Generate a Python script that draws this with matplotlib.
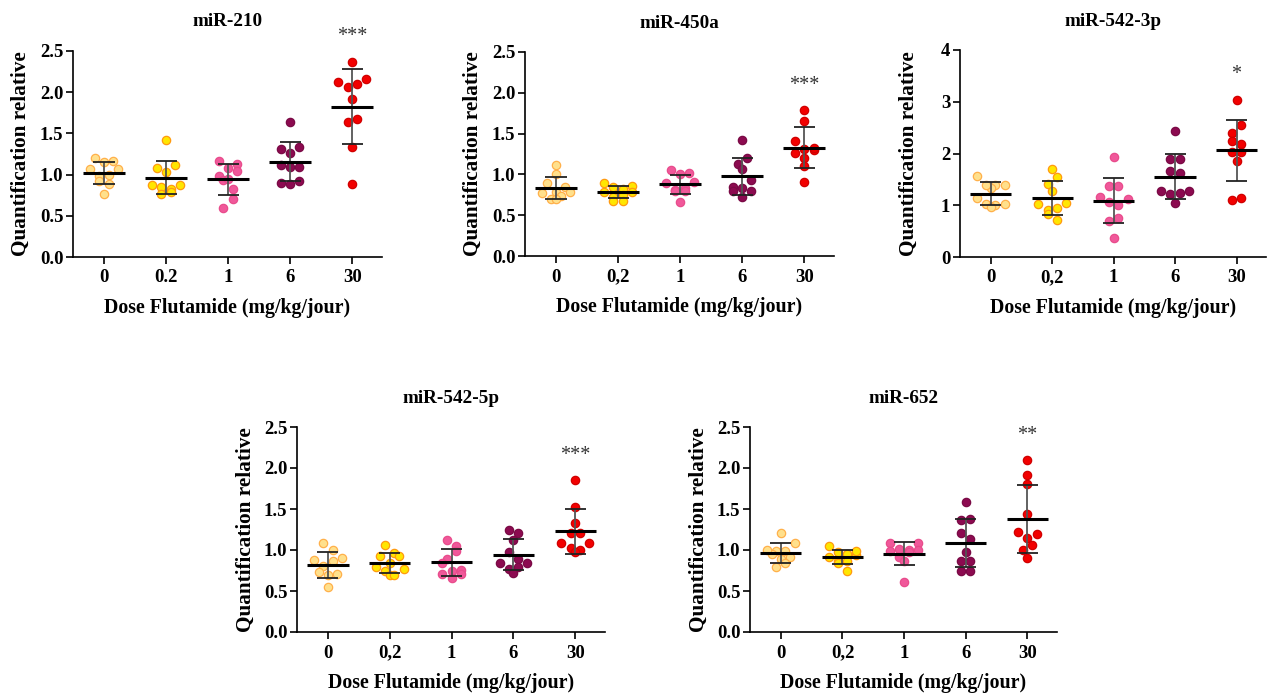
import numpy as np
import matplotlib
matplotlib.use('Agg')
import matplotlib.pyplot as plt

plt.rcParams['font.family'] = ['Liberation Serif', 'DejaVu Serif']

# ---- données ----
titles = ['miR-210', 'miR-450a', 'miR-542-3p', 'miR-542-5p', 'miR-652']
stars = ['***', '***', '*', '***', '**']
doses_pt = ['0', '0.2', '1', '6', '30']
doses_virg = ['0', '0,2', '1', '6', '30']

mir210 = [
    [1.15, 1.20, 1.17, 1.07, 1.07, 0.98, 1.00, 0.92, 0.88, 0.77],
    [1.42, 1.08, 1.12, 1.03, 0.87, 0.83, 0.87, 0.85, 0.79, 0.77],
    [1.17, 1.13, 1.08, 1.04, 0.98, 0.93, 0.95, 0.83, 0.70, 0.60],
    [1.64, 1.34, 1.31, 1.26, 1.09, 1.09, 1.12, 0.92, 0.90, 0.88],
    [2.37, 2.12, 2.16, 2.06, 2.10, 1.92, 1.64, 1.67, 1.33, 0.88],
]
mir450a = [
    [1.11, 1.00, 0.89, 0.85, 0.78, 0.79, 0.77, 0.74, 0.70, 0.70],
    [0.86, 0.89, 0.82, 0.85, 0.78, 0.79, 0.75, 0.72, 0.68, 0.68],
    [1.05, 1.02, 1.00, 0.91, 0.89, 0.83, 0.81, 0.80, 0.80, 0.66],
    [1.42, 1.20, 1.13, 1.07, 0.93, 0.85, 0.83, 0.80, 0.80, 0.72],
    [1.79, 1.66, 1.41, 1.30, 1.32, 1.31, 1.26, 1.20, 1.10, 0.91],
]
mir542_3p = [
    [1.56, 1.40, 1.34, 1.40, 1.40, 1.14, 1.03, 1.03, 1.00, 0.96],
    [1.71, 1.54, 1.42, 1.28, 1.03, 1.05, 0.94, 0.90, 0.84, 0.72],
    [1.94, 1.38, 1.38, 1.12, 1.16, 1.06, 1.00, 0.76, 0.70, 0.36],
    [2.44, 1.90, 1.90, 1.62, 1.66, 1.27, 1.27, 1.24, 1.21, 1.04],
    [3.04, 2.56, 2.40, 2.24, 2.18, 2.03, 2.03, 1.86, 1.10, 1.14],
]
mir542_5p = [
    [1.08, 1.00, 0.88, 0.90, 0.87, 0.80, 0.71, 0.73, 0.69, 0.55],
    [1.06, 0.96, 0.93, 0.93, 0.84, 0.79, 0.77, 0.75, 0.69, 0.70],
    [1.12, 1.05, 0.99, 0.89, 0.84, 0.76, 0.75, 0.71, 0.71, 0.66],
    [1.25, 1.21, 1.12, 0.97, 0.89, 0.84, 0.84, 0.79, 0.77, 0.72],
    [1.85, 1.52, 1.33, 1.21, 1.21, 1.09, 1.09, 1.02, 1.00, 0.97],
]
mir652 = [
    [1.21, 1.09, 0.99, 0.95, 0.99, 1.00, 0.91, 0.89, 0.84, 0.79],
    [1.05, 0.94, 0.97, 0.99, 0.95, 0.91, 0.87, 0.86, 0.84, 0.75],
    [1.09, 1.09, 1.01, 1.00, 1.00, 0.99, 0.98, 0.92, 0.86, 0.61],
    [1.59, 1.37, 1.38, 1.21, 1.13, 0.98, 0.86, 0.86, 0.75, 0.75],
    [2.10, 1.92, 1.80, 1.44, 1.19, 1.22, 1.15, 1.06, 1.00, 0.90],
]
all_data = [mir210, mir450a, mir542_3p, mir542_5p, mir652]
ymax = [2.5, 2.5, 4, 2.5, 2.5]

face = ['#FFE08C', '#FFE600', '#F0589A', '#8C0A50', '#F20000']
edge = ['#FFB04A', '#FF9A10', '#E84C8C', '#7A0A45', '#D00000']

W, H = 1269, 695
# (gauche, droite, haut, bas) en pixels
boxes = [(73, 382, 51, 257), (525, 834, 52, 256), (960, 1266, 50, 257),
         (297, 605, 427, 632), (750, 1057, 427, 632)]


def swarm_x(ax, x0, vals, rowh=8.5, dx=9.3, maxrow=4):
    # rangées horizontales façon GraphPad : points proches en y mis côte à côte
    ys = ax.transData.transform(np.column_stack([np.full(len(vals), x0), vals]))[:, 1]
    ppu = ax.transData.transform((1, 0))[0] - ax.transData.transform((0, 0))[0]
    order = np.argsort(ys)[::-1]
    rows = []
    for i in order:
        if rows and len(rows[-1]) < maxrow and ys[rows[-1][0]] - ys[i] <= rowh:
            rows[-1].append(i)
        else:
            rows.append([i])
    offs = np.zeros(len(vals))
    for k, row in enumerate(rows):
        n = len(row)
        slots = [(j - (n - 1) / 2) * dx for j in range(n)]
        slots = sorted(slots, key=lambda s: (-abs(s), s))
        if k % 2:
            slots = [-s for s in slots]
        for i, s in zip(row, slots):
            offs[i] = s
    return x0 + offs / ppu


fig = plt.figure(figsize=(W / 100, H / 100), dpi=100)

for n, data in enumerate(all_data):
    l, r, t, b = boxes[n]
    ax = fig.add_axes([l / W, 1 - b / H, (r - l) / W, (b - t) / H])
    ax.set_xlim(-0.5, 4.48)
    ax.set_ylim(0, ymax[n])
    for g, vals in enumerate(data):
        vals = np.array(vals)
        xs = swarm_x(ax, g, vals)
        ax.scatter(xs, vals, s=36, color=face[g], edgecolors=edge[g], linewidths=0.9, zorder=3)
        m = vals.mean()
        sd = vals.std(ddof=1)
        ax.vlines(g, m - sd, m + sd, color='#555555', lw=1.3, zorder=4)
        ax.hlines([m - sd, m + sd], g - 0.17, g + 0.17, color='#222222', lw=1.3, zorder=4)
        ax.hlines(m, g - 0.335, g + 0.335, color='black', lw=2.2, zorder=5)
    top = max(data[4])
    ax.text(4, top + 0.12 * ymax[n], stars[n], ha='center', va='center',
            fontsize=14.5, color='#333333')

    if ymax[n] == 4:
        ax.set_yticks(np.arange(0, 5, 1))
        ax.set_yticklabels([str(v) for v in range(5)])
    else:
        yt = np.arange(0, 2.51, 0.5)
        ax.set_yticks(yt)
        ax.set_yticklabels(['%.1f' % v for v in yt])
    ax.set_xticks(range(5))
    ax.set_xticklabels(doses_pt if n == 0 else doses_virg)
    for lab in ax.get_xticklabels() + ax.get_yticklabels():
        lab.set_fontweight('bold')
        lab.set_fontsize(13.5)
    ax.tick_params(axis='y', length=5, width=1.2, pad=2)
    ax.tick_params(axis='x', length=5, width=1.2, pad=4)
    for s in ['top', 'right']:
        ax.spines[s].set_visible(False)
    for s in ['left', 'bottom']:
        ax.spines[s].set_linewidth(1.2)

    ax.set_ylabel('Quantification relative', fontsize=15.3, fontweight='bold')
    ax.yaxis.set_label_coords(-0.135, 0.5)
    ax.set_xlabel('Dose Flutamide (mg/kg/jour)', fontsize=14.3, fontweight='bold')
    ax.xaxis.set_label_coords(0.5, -0.2)
    ax.text(0.5, 1 + 29 / (b - t), titles[n], transform=ax.transAxes, ha='center',
            va='center', fontsize=13.8, fontweight='bold')

fig.savefig('out.png', dpi=100)
